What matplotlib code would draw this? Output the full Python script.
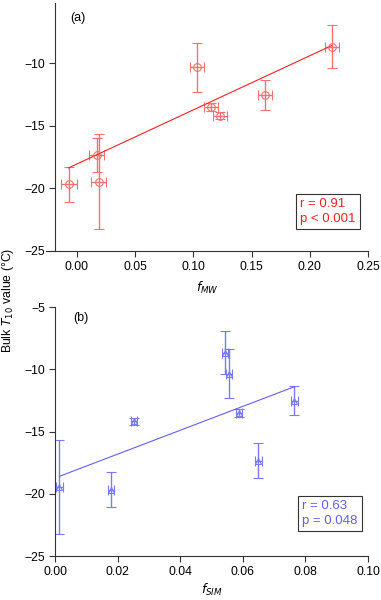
import numpy as np
import matplotlib
matplotlib.use('Agg')
import matplotlib.pyplot as plt

# T10 values (shared by both panels) and their errors
t10 = [-19.68, -17.34, -19.49, -10.35, -13.52, -14.19, -12.55, -8.68]
t10_err_lo = [1.40, 1.37, 3.76, 1.96, 0.30, 0.30, 1.16, 1.72]
t10_err_hi = [1.40, 1.40, 3.82, 1.99, 0.30, 0.30, 1.18, 1.74]

# panel (a): f_MW
f_mw = [-0.0071, 0.0169, 0.0189, 0.1031, 0.1150, 0.1231, 0.1615, 0.2188]
f_mw_err = [0.0070, 0.0064, 0.0064, 0.0063, 0.0060, 0.0060, 0.0060, 0.0060]
fit_a_x = [-0.0071, 0.2188]
fit_a_y = [-18.36, -8.60]

# panel (b): f_SIM
f_sim = [0.0179, 0.0650, 0.0014, 0.0556, 0.0587, 0.0253, 0.0765, 0.0544]
f_sim_err = [0.0010] * 8
fit_b_x = [0.0014, 0.0765]
fit_b_y = [-18.60, -11.40]

red = '#ff2020'
red_l = '#ff7070'
blue = '#6060ff'
blue_l = '#7a7aff'
axcol = '#333333'

plt.rcParams['font.family'] = ['Liberation Sans', 'DejaVu Sans']
fig = plt.figure(figsize=(3.81, 6.00), dpi=100)


def style(ax):
    for s in ['top', 'right']:
        ax.spines[s].set_visible(False)
    for s in ['left', 'bottom']:
        ax.spines[s].set_color(axcol)
        ax.spines[s].set_linewidth(0.8)
    ax.tick_params(direction='out', length=4, width=0.8, color=axcol,
                   labelsize=8.8, pad=3)


# ---- (a)
ax1 = fig.add_axes([0.1207, 0.5817, 0.845, 0.4133])
ax1.errorbar(f_mw, t10, yerr=[t10_err_lo, t10_err_hi], xerr=f_mw_err,
             fmt='o', ms=5.5, mfc='none', mec=red_l, mew=0.8,
             ecolor=red_l, elinewidth=1.0, capsize=3.5, capthick=1.0)
ax1.plot(fit_a_x, fit_a_y, color=red, lw=0.8)
ax1.set_xlim(-0.0266, 0.25)
ax1.set_ylim(-25, -5.2)
ax1.set_xticks([0.00, 0.05, 0.10, 0.15, 0.20, 0.25])
ax1.set_xticklabels(['0.00', '0.05', '0.10', '0.15', '0.20', '0.25'])
ax1.set_yticks([-25, -20, -15, -10])
style(ax1)
ax1.spines['left'].set_position(('axes', 0.028))
ax1.set_xlabel('$f_{MW}$', fontsize=9, labelpad=5)
ax1.text(0.075, 0.94, '(a)', transform=ax1.transAxes, fontsize=9,
         va='center')
ax1.text(0.79, 0.16, 'r = 0.91\np < 0.001', transform=ax1.transAxes,
         fontsize=9.5, color=red, linespacing=1.3, va='center',
         bbox=dict(boxstyle='square,pad=0.3', fc='white', ec=axcol, lw=0.8))

# ---- (b)
ax2 = fig.add_axes([0.1444, 0.0733, 0.8215, 0.415])
ax2.errorbar(f_sim, t10, yerr=[t10_err_lo, t10_err_hi], xerr=f_sim_err,
             fmt='^', ms=5, mfc='none', mec=blue_l, mew=0.8,
             ecolor=blue_l, elinewidth=1.0, capsize=3.5, capthick=1.0)
ax2.plot(fit_b_x, fit_b_y, color=blue, lw=0.8)
ax2.set_xlim(0, 0.10)
ax2.set_ylim(-25, -5)
ax2.set_xticks([0.00, 0.02, 0.04, 0.06, 0.08, 0.10])
ax2.set_xticklabels(['0.00', '0.02', '0.04', '0.06', '0.08', '0.10'])
ax2.set_yticks([-25, -20, -15, -10, -5])
style(ax2)
ax2.set_xlabel('$f_{SIM}$', fontsize=9, labelpad=3)
ax2.text(0.058, 0.955, '(b)', transform=ax2.transAxes, fontsize=9,
         va='center')
ax2.text(0.79, 0.17, 'r = 0.63\np = 0.048', transform=ax2.transAxes,
         fontsize=9.5, color=blue, linespacing=1.3, va='center',
         bbox=dict(boxstyle='square,pad=0.3', fc='white', ec=axcol, lw=0.8))

fig.text(0.022, 0.5, 'Bulk $T_{10}$ value (°C)', rotation=90,
         ha='center', va='center', fontsize=8.8)

fig.savefig('out.png', dpi=100)
